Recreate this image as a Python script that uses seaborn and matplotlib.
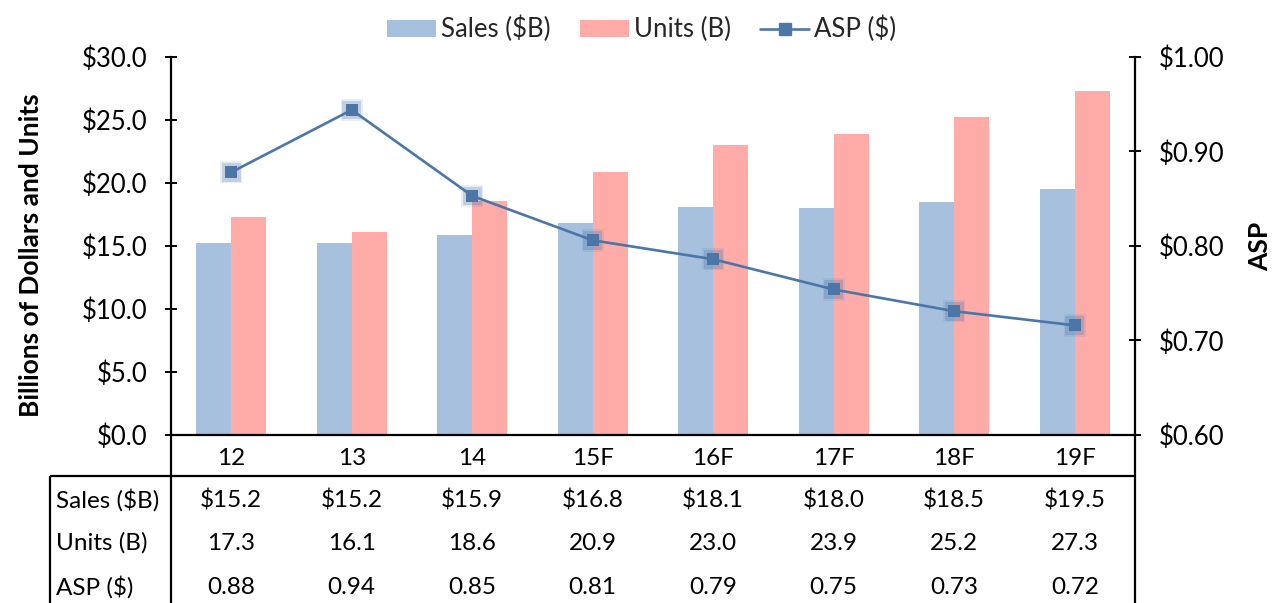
import numpy as np
import pandas as pd
import matplotlib
matplotlib.use("Agg")
import matplotlib.pyplot as plt
import seaborn as sns
from matplotlib.lines import Line2D
from matplotlib.patches import Patch
from matplotlib.ticker import FuncFormatter, MultipleLocator
import matplotlib.transforms as mtransforms

# ---- data ----
categories = ["12", "13", "14", "15F", "16F", "17F", "18F", "19F"]
sales = [15.2, 15.2, 15.9, 16.8, 18.1, 18.0, 18.5, 19.5]
units = [17.3, 16.1, 18.6, 20.9, 23.0, 23.9, 25.2, 27.3]
asp = [0.878, 0.944, 0.853, 0.806, 0.786, 0.754, 0.731, 0.716]
series_names = ["Sales ($B)", "Units (B)", "ASP ($)"]

sales_color = "#A7C0DE"
units_color = "#FFABA8"
line_color = "#4A76A8"

sns.set_theme(style="white")
plt.rcParams['font.family'] = ['Lato', 'DejaVu Sans']
FS_TICK = 18.5
FS_TABLE = 17.5
FS_LABEL = 19

fig = plt.figure(figsize=(12.73, 6.03), dpi=100)
ax = fig.add_axes([0.1343, 0.2786, 0.7573, 0.6269])

df = pd.DataFrame({
    "cat": categories * 2,
    "value": sales + units,
    "series": [series_names[0]] * len(categories) + [series_names[1]] * len(categories),
})
sns.barplot(data=df, x="cat", y="value", hue="series", order=categories,
            hue_order=series_names[:2], palette=[sales_color, units_color],
            width=0.58, saturation=1, errorbar=None, ax=ax, legend=False,
            linewidth=0, edgecolor="none")
ax.set_xlim(-0.5, len(categories) - 0.5)
ax.set_ylim(0, 30)
ax.yaxis.set_major_locator(MultipleLocator(5))
ax.yaxis.set_major_formatter(FuncFormatter(lambda v, p: f"${v:.1f}"))
ax.set_xlabel("")
ax.set_ylabel("Billions of Dollars and Units", fontsize=FS_LABEL, fontweight="bold", color="black")
ax.yaxis.set_label_coords(-0.133, 0.476)

ax2 = ax.twinx()
xpos = np.arange(len(categories))
sns.scatterplot(x=xpos, y=asp, ax=ax2, marker="s", s=260, color=line_color,
                alpha=0.12, edgecolor="none", legend=False, zorder=3)
sns.scatterplot(x=xpos, y=asp, ax=ax2, marker="s", s=180, color=line_color,
                alpha=0.25, edgecolor="none", legend=False, zorder=3)
sns.lineplot(x=xpos, y=asp, ax=ax2, color=line_color, linewidth=1.9,
             marker="s", markersize=8.5, markeredgewidth=0, legend=False, zorder=4)
ax2.set_xlim(-0.5, len(categories) - 0.5)
ax2.set_ylim(0.6, 1.0)
ax2.yaxis.set_major_locator(MultipleLocator(0.1))
ax2.yaxis.set_major_formatter(FuncFormatter(lambda v, p: f"${v:.2f}"))
ax2.set_ylabel("ASP", fontsize=FS_LABEL, fontweight="bold", color="black")
ax2.yaxis.set_label_coords(1.117, 0.5)

for a in (ax, ax2):
    a.spines["top"].set_visible(False)
    for s in ("left", "right", "bottom"):
        a.spines[s].set_color("black")
        a.spines[s].set_linewidth(1.6)
ax.spines["right"].set_visible(False)
ax2.spines["left"].set_visible(False)
ax2.spines["bottom"].set_visible(False)

ax.tick_params(axis="y", direction="inout", length=8, width=1.4, colors="black",
               labelsize=FS_TICK, pad=13, left=True)
ax2.tick_params(axis="y", direction="inout", length=8, width=1.4, colors="black",
                labelsize=FS_TICK, pad=13, right=True)
ax.tick_params(axis="x", length=0, labelsize=FS_TABLE, colors="black", pad=9)

# ---- legend ----
handles = [Patch(facecolor=sales_color, edgecolor="none"),
           Patch(facecolor=units_color, edgecolor="none"),
           Line2D([0], [0], color=line_color, lw=1.9, marker="s", markersize=8.5)]
fig.legend(handles, series_names, loc="upper center", bbox_to_anchor=(0.504, 1.012),
           ncol=3, frameon=False, fontsize=FS_TICK, handlelength=1.9, handleheight=0.66,
           columnspacing=1.15, handletextpad=0.2)

# ---- data table ----
ax_left = ax.get_position().x0
ax_right = ax.get_position().x1
ax_bottom = ax.get_position().y0
line_y = 1 - 476 / 603
table_left = 50 / 1273
kw = dict(color="black", lw=1.6, solid_capstyle="butt")
fig.add_artist(Line2D([table_left, ax_right], [line_y, line_y], transform=fig.transFigure, **kw))
fig.add_artist(Line2D([table_left, table_left], [0, line_y], transform=fig.transFigure, **kw))
fig.add_artist(Line2D([ax_left, ax_left], [0, ax_bottom], transform=fig.transFigure, **kw))
fig.add_artist(Line2D([ax_right, ax_right], [0, ax_bottom], transform=fig.transFigure, **kw))

row_y = [1 - 500 / 603, 1 - 543 / 603, 1 - 587 / 603]
row_vals = [[f"${v:.1f}" for v in sales], [f"{v:.1f}" for v in units], [f"{v:.2f}" for v in asp]]
trans = mtransforms.blended_transform_factory(ax.transData, fig.transFigure)
for name, y, vals in zip(series_names, row_y, row_vals):
    fig.text(56 / 1273, y, name, ha="left", va="center", fontsize=FS_TABLE, color="black")
    for i, t in enumerate(vals):
        ax.text(i, y, t, transform=trans, ha="center", va="center", fontsize=FS_TABLE,
                color="black", clip_on=False)

fig.savefig("out.png", dpi=100)
